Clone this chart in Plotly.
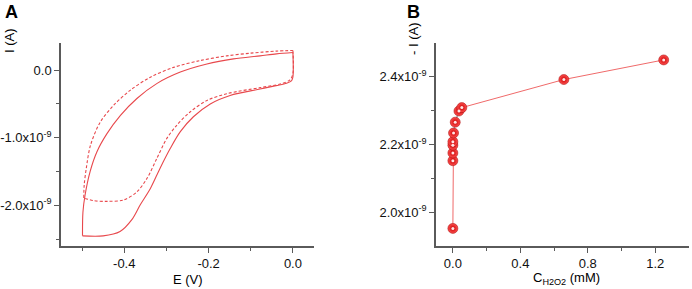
import plotly.graph_objects as go

# ---------------- Panel A: cyclic voltammograms ----------------
E_solid = [0.0, 0.0, -0.003, -0.015, -0.04, -0.078, -0.149, -0.196, -0.236, -0.267, -0.291,
           -0.315, -0.338, -0.362, -0.382, -0.41, -0.45, -0.499,
           -0.498, -0.493, -0.481, -0.465, -0.441, -0.409, -0.370, -0.323, -0.267, -0.204,
           -0.141, -0.078, -0.039, 0.0]
I_solid_nA = [0.26, -0.10, -0.155, -0.195, -0.23, -0.28, -0.375, -0.50, -0.69, -0.91, -1.16,
              -1.45, -1.75, -1.99, -2.21, -2.385, -2.45, -2.45,
              -2.10, -1.85, -1.50, -1.21, -0.94, -0.67, -0.42, -0.20, -0.03, 0.09,
              0.165, 0.21, 0.24, 0.26]
solid_corner = 17

E_dash = [0.0, 0.0, -0.007, -0.03, -0.078, -0.157, -0.204, -0.244, -0.276, -0.299, -0.323,
          -0.346, -0.370, -0.402, -0.441, -0.473, -0.496,
          -0.495, -0.490, -0.480, -0.457, -0.425, -0.386, -0.338, -0.283, -0.220, -0.157,
          -0.10, -0.04, 0.0]
I_dash_nA = [0.29, -0.05, -0.145, -0.205, -0.26, -0.35, -0.45, -0.62, -0.82, -1.01, -1.31,
             -1.60, -1.80, -1.92, -1.94, -1.93, -1.89,
             -1.70, -1.45, -1.11, -0.77, -0.52, -0.30, -0.105, 0.04, 0.14, 0.21,
             0.25, 0.28, 0.29]
dash_corner = 16

A_xticks = [-0.4, -0.2, 0.0]
A_xticklabels = ["-0.4", "-0.2", "0.0"]
A_xminor = [-0.5, -0.3, -0.1]
A_yticks_nA = [0.0, -1.0, -2.0]
A_yticklabels = ["0.0", "-1.0x10<sup>-9</sup>", "-2.0x10<sup>-9</sup>"]
A_yminor_nA = [-0.5, -1.5, -2.5]

# ---------------- Panel B: calibration ----------------
conc_mM = [0.0, 0.0, 0.0, 0.0, 0.0, 0.004, 0.014, 0.036, 0.053, 0.658, 1.25]
minusI_nA = [1.952, 2.152, 2.175, 2.198, 2.208, 2.234, 2.266, 2.299, 2.309, 2.392, 2.45]
fit_idx = [2, 3, 4, 5, 6, 7, 8]

B_xticks = [0.0, 0.4, 0.8, 1.2]
B_xticklabels = ["0.0", "0.4", "0.8", "1.2"]
B_xminor = [0.2, 0.6, 1.0]
B_yticks_nA = [2.0, 2.2, 2.4]
B_yticklabels = ["2.0x10<sup>-9</sup>", "2.2x10<sup>-9</sup>", "2.4x10<sup>-9</sup>"]
B_yminor_nA = [2.1, 2.3]

nA = 1e-9
RED = "#e8484c"
FONT = "Liberation Sans, Arial, sans-serif"

fig = go.Figure()

def cv_trace(E, I, sl, dash=None):
    line = dict(color=RED, width=1.1, shape="spline", smoothing=0.9)
    if dash:
        line["dash"] = dash
    fig.add_trace(go.Scatter(x=E[sl], y=[v * nA for v in I[sl]], mode="lines", line=line,
                             xaxis="x", yaxis="y", showlegend=False, hoverinfo="skip"))

cv_trace(E_solid, I_solid_nA, slice(0, solid_corner + 1))
cv_trace(E_solid, I_solid_nA, slice(solid_corner, None))
cv_trace(E_dash, I_dash_nA, slice(0, dash_corner + 1), dash="3px,2px")
cv_trace(E_dash, I_dash_nA, slice(dash_corner, None), dash="3px,2px")

yB = [v * nA for v in minusI_nA]
fig.add_trace(go.Scatter(x=conc_mM, y=yB, mode="lines",
                         line=dict(color="#f06a6a", width=1),
                         xaxis="x2", yaxis="y2", showlegend=False))
fig.add_trace(go.Scatter(x=[conc_mM[i] for i in fit_idx], y=[yB[i] for i in fit_idx], mode="lines",
                         line=dict(color="#5fc8d0", width=1),
                         xaxis="x2", yaxis="y2", showlegend=False))
fig.add_trace(go.Scatter(x=conc_mM, y=yB, mode="markers",
                         marker=dict(size=10, color="#ff5050",
                                     gradient=dict(type="radial", color="#c80000"),
                                     line=dict(color="#a00000", width=0.5)),
                         xaxis="x2", yaxis="y2", showlegend=False))
fig.add_trace(go.Scatter(x=conc_mM, y=yB, mode="markers",
                         marker=dict(size=3, color="#ffe6e6", line=dict(width=0)),
                         xaxis="x2", yaxis="y2", showlegend=False, hoverinfo="skip"))

W, H = 692, 289
ytop, ybot = 43, 246
ydom = [(H - ybot) / H, (H - ytop) / H]

axis_common = dict(showline=True, linecolor="#5a5a5a", linewidth=1.5, showgrid=False,
                   zeroline=False, ticks="outside", ticklen=5, tickwidth=1.2, tickcolor="#5a5a5a",
                   tickfont=dict(family=FONT, size=13, color="#111"), mirror=False,
                   tickmode="array")
minor_common = dict(ticks="outside", ticklen=3, tickcolor="#5a5a5a", tickwidth=1)

fig.update_layout(
    width=W, height=H, margin=dict(l=0, r=0, t=0, b=0),
    paper_bgcolor="white", plot_bgcolor="white",
    font=dict(family=FONT, size=13, color="#111"),
    xaxis=dict(domain=[61 / W, 314 / W], range=[-0.55, 0.05], tickvals=A_xticks,
               ticktext=A_xticklabels, anchor="y",
               minor=dict(tickvals=A_xminor, **minor_common), **axis_common),
    yaxis=dict(domain=ydom, range=[-2.6e-9, 0.4e-9], tickvals=[v * nA for v in A_yticks_nA],
               ticktext=A_yticklabels, anchor="x",
               minor=dict(tickvals=[v * nA for v in A_yminor_nA], **minor_common), **axis_common),
    xaxis2=dict(domain=[436 / W, 689 / W], range=[-0.1, 1.4], tickvals=B_xticks,
                ticktext=B_xticklabels, anchor="y2",
                minor=dict(tickvals=B_xminor, **minor_common), **axis_common),
    yaxis2=dict(domain=ydom, range=[1.9e-9, 2.5e-9], tickvals=[v * nA for v in B_yticks_nA],
                ticktext=B_yticklabels, anchor="x2",
                minor=dict(tickvals=[v * nA for v in B_yminor_nA], **minor_common), **axis_common),
)

def ann(text, x, y, size=13, bold=False, angle=0):
    fig.add_annotation(text=f"<b>{text}</b>" if bold else text, x=x / W, y=1 - y / H,
                       xref="paper", yref="paper", showarrow=False, textangle=angle,
                       font=dict(family=FONT, size=size, color="#000"),
                       xanchor="center", yanchor="middle")

ann("A", 12, 12, size=18, bold=True)
ann("B", 413, 12, size=18, bold=True)
ann("I (A)", 10, 41, angle=-90)
ann("- I (A)", 413, 39, angle=-90)
ann("E (V)", 188, 279)
ann("C<sub>H2O2</sub> (mM)", 566, 278)

fig.write_html("out.html", config={"displayModeBar": False},
               post_script="document.body.style.margin='0';document.body.style.padding='0';")
